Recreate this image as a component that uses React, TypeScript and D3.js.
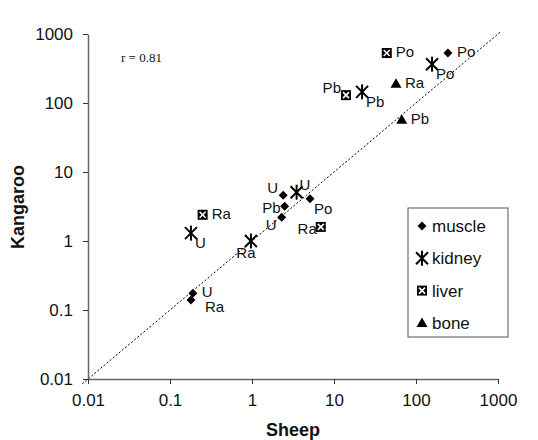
import { useEffect, useRef } from 'react';
import * as d3 from 'd3';

// Kangaroo vs sheep concentrations, by tissue
const muscle = [
  { el: 'Po', sheep: 245, kangaroo: 530 },
  { el: 'Po', sheep: 5.1, kangaroo: 4.1 },
  { el: 'U', sheep: 2.4, kangaroo: 4.6 },
  { el: 'Pb', sheep: 2.5, kangaroo: 3.2 },
  { el: 'U', sheep: 2.3, kangaroo: 2.2 },
  { el: 'U', sheep: 0.19, kangaroo: 0.175 },
  { el: 'Ra', sheep: 0.18, kangaroo: 0.14 },
];
const kidney = [
  { el: 'Po', sheep: 157, kangaroo: 365 },
  { el: 'Pb', sheep: 22, kangaroo: 145 },
  { el: 'U', sheep: 3.5, kangaroo: 5.1 },
  { el: 'Ra', sheep: 0.97, kangaroo: 1.0 },
  { el: 'U', sheep: 0.18, kangaroo: 1.3 },
];
const liver = [
  { el: 'Po', sheep: 44, kangaroo: 530 },
  { el: 'Pb', sheep: 14, kangaroo: 130 },
  { el: 'Ra', sheep: 6.9, kangaroo: 1.6 },
  { el: 'Ra', sheep: 0.25, kangaroo: 2.4 },
];
const bone = [
  { el: 'Ra', sheep: 57, kangaroo: 190 },
  { el: 'Pb', sheep: 67, kangaroo: 57 },
];

// which side of the marker each element label sits on
const muscleLabelSide = ['e', 'se', 'nw', 'w', 'sw', 'e', 'ese'];
const kidneyLabelSide = ['se', 'se', 'ne', 's', 'se'];
const liverLabelSide = ['e', 'nw', 'w', 'e'];
const boneLabelSide = ['e', 'e'];

const tissues = ['muscle', 'kidney', 'liver', 'bone'];
const tickValues = [0.01, 0.1, 1, 10, 100, 1000];
const rValue = 'r = 0.81';

const sides: Record<string, { dx: number; cy: number; anchor: string }> = {
  e: { dx: 9, cy: -1, anchor: 'start' },
  se: { dx: 4, cy: 10, anchor: 'start' },
  ese: { dx: 14, cy: 7, anchor: 'start' },
  ne: { dx: 3, cy: -7, anchor: 'start' },
  nw: { dx: -5, cy: -7, anchor: 'end' },
  w: { dx: -4, cy: 2, anchor: 'end' },
  sw: { dx: -5, cy: 8, anchor: 'end' },
  s: { dx: -5, cy: 12, anchor: 'middle' },
};

function drawMarker(g: any, tissue: string) {
  if (tissue === 'muscle') {
    g.append('path').attr('d', 'M0,-4.5L4.5,0L0,4.5L-4.5,0Z').attr('fill', '#000');
  } else if (tissue === 'kidney') {
    const s = g.append('g').attr('stroke', '#000').attr('stroke-width', 2);
    s.append('line').attr('x1', -6).attr('y1', -6).attr('x2', 6).attr('y2', 6);
    s.append('line').attr('x1', -6).attr('y1', 6).attr('x2', 6).attr('y2', -6);
    s.append('line').attr('x1', 0).attr('y1', -7.5).attr('x2', 0).attr('y2', 7.5);
  } else if (tissue === 'liver') {
    g.append('rect').attr('x', -5).attr('y', -5).attr('width', 10).attr('height', 10).attr('fill', '#000');
    const s = g.append('g').attr('stroke', '#fff').attr('stroke-width', 1.6);
    s.append('line').attr('x1', -3).attr('y1', -3).attr('x2', 3).attr('y2', 3);
    s.append('line').attr('x1', -3).attr('y1', 3).attr('x2', 3).attr('y2', -3);
  } else {
    g.append('path').attr('d', 'M0,-5.5L5.5,4L-5.5,4Z').attr('fill', '#000');
  }
}

export default function App() {
  const ref = useRef<SVGSVGElement>(null);

  useEffect(() => {
    const svg = d3.select(ref.current);
    svg.selectAll('*').remove();

    const font = 'Liberation Sans, Arial, sans-serif';
    const x = d3.scaleLog().domain([0.01, 1000]).range([88, 498]);
    const y = d3.scaleLog().domain([0.01, 1000]).range([379, 34]);

    // 1:1 line
    svg.append('line')
      .attr('x1', x(0.0085)).attr('y1', y(0.0085))
      .attr('x2', x(1080)).attr('y2', y(1080))
      .attr('stroke', '#000').attr('stroke-width', 1)
      .attr('stroke-dasharray', '2,2');

    // axes
    const axisColor = '#666';
    const yAxis = svg.append('g')
      .attr('transform', `translate(${x(0.01)},0)`)
      .call(d3.axisLeft(y).tickValues(tickValues).tickFormat(d3.format('~g') as any).tickSize(5).tickSizeOuter(0));
    const xAxis = svg.append('g')
      .attr('transform', `translate(0,${y(0.01)})`)
      .call(d3.axisBottom(x).tickValues(tickValues).tickFormat(d3.format('~g') as any).tickSize(5).tickSizeOuter(0));
    [xAxis, yAxis].forEach(a => {
      a.select('.domain').attr('stroke', axisColor).attr('stroke-width', 1.5);
      a.selectAll('.tick line').attr('stroke', '#333').attr('stroke-width', 1);
      a.selectAll('.tick text')
        .attr('fill', '#111').attr('font-family', font).attr('font-size', 17);
    });
    yAxis.selectAll('.tick text').attr('x', -15).attr('dy', '0.35em');
    xAxis.selectAll('.tick text').attr('y', 15).attr('dy', '0.71em');

    // axis titles
    svg.append('text')
      .attr('x', 293).attr('y', 436)
      .attr('text-anchor', 'middle')
      .attr('font-family', font).attr('font-weight', 'bold').attr('font-size', 18)
      .attr('fill', '#111')
      .text('Sheep');
    svg.append('text')
      .attr('transform', 'translate(24,207) rotate(-90)')
      .attr('text-anchor', 'middle')
      .attr('font-family', font).attr('font-weight', 'bold').attr('font-size', 18)
      .attr('fill', '#111')
      .text('Kangaroo');

    svg.append('text')
      .attr('x', 121).attr('y', 62)
      .attr('font-family', 'Liberation Serif, Times New Roman, serif').attr('font-size', 13)
      .attr('fill', '#111')
      .text(rValue);

    // points with element labels
    const series = [
      { tissue: 'muscle', data: muscle, sides: muscleLabelSide },
      { tissue: 'kidney', data: kidney, sides: kidneyLabelSide },
      { tissue: 'liver', data: liver, sides: liverLabelSide },
      { tissue: 'bone', data: bone, sides: boneLabelSide },
    ];
    series.forEach(s => {
      s.data.forEach((d, i) => {
        const g = svg.append('g').attr('transform', `translate(${x(d.sheep)},${y(d.kangaroo)})`);
        drawMarker(g, s.tissue);
        const p = sides[s.sides[i]];
        g.append('text')
          .attr('x', p.dx).attr('y', p.cy + 5)
          .attr('text-anchor', p.anchor)
          .attr('font-family', font).attr('font-size', 15)
          .attr('fill', '#111')
          .text(d.el);
      });
    });

    // legend
    const lg = svg.append('g').attr('transform', 'translate(408,208)');
    lg.append('rect')
      .attr('width', 100).attr('height', 129)
      .attr('fill', '#fff').attr('stroke', '#555').attr('stroke-width', 1);
    tissues.forEach((t, i) => {
      const row = lg.append('g').attr('transform', `translate(14,${18 + i * 32.3})`);
      drawMarker(row, t);
      row.append('text')
        .attr('x', 10).attr('y', 6)
        .attr('font-family', font).attr('font-size', 17)
        .attr('fill', '#111')
        .text(t);
    });
  }, []);

  return (
    <svg ref={ref} width={538} height={440}
      style={{ position: 'absolute', left: 0, top: 0, background: '#fff' }} />
  );
}
